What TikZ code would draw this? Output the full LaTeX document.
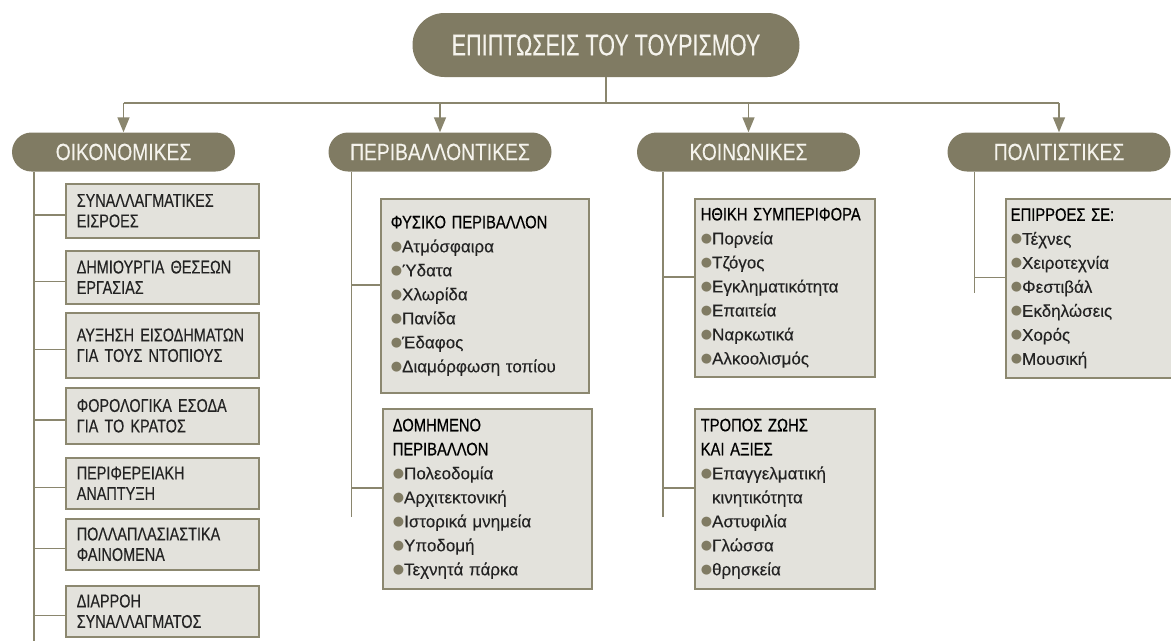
\documentclass[tikz,border=0pt]{standalone}
\usepackage{fontspec}
\setmainfont[FakeStretch=0.82,FakeBold=0.2]{Liberation Sans}
\newfontfamily\itemfont[FakeBold=0.2]{Liberation Sans}
\newfontfamily\boxfont[FakeStretch=0.78,FakeBold=0.2]{Liberation Sans}
\newfontfamily\headfont[FakeStretch=0.82,FakeBold=0.5]{Liberation Sans}
\newfontfamily\titlefont[FakeStretch=0.72,FakeBold=0.2]{Liberation Sans}
\newfontfamily\symfont{DejaVu Sans}
\usepackage{xcolor}
\usepackage{tikz}
\usetikzlibrary{arrows.meta}
\usetikzlibrary{positioning,calc}

\definecolor{pillcol}{RGB}{128,123,99}
\definecolor{boxfill}{RGB}{227,226,220}
\definecolor{boxline}{RGB}{140,136,112}
\definecolor{linkcol}{RGB}{138,134,110}
\definecolor{headtext}{RGB}{245,243,236}
\definecolor{bodytext}{RGB}{35,35,35}

% bullets and headings inside the boxes
\newcommand{\blt}{{\symfont\fontsize{13}{13}\selectfont\color{pillcol}\raisebox{2pt}{●}}}
\newcommand{\itm}[1]{\blt{\itemfont #1}}
\newcommand{\itmgap}{\hphantom{\blt}}
\newcommand{\hd}[1]{{\headfont\fontsize{18}{24}\selectfont\color{black}#1}}

\tikzset{
    pill/.style={
        fill=pillcol,
        rounded corners=19.5pt,
        minimum width=223pt,
        minimum height=39pt,
        inner sep=0pt,
        text=headtext,
        font=\fontsize{23.5}{26}\selectfont
    },
    infobox/.style={
        draw=boxline,
        fill=boxfill,
        line width=1.5pt,
        anchor=north west,
        align=left,
        inner xsep=11pt,
        inner ysep=0pt,
        text=bodytext,
        font=\fontsize{17}{24}\selectfont
    },
    link/.style={
        draw=linkcol,
        line width=1.5pt
    },
    arr/.style={
        link,
        -{Triangle[length=15pt, width=12pt]}
    }
}

\begin{document}
\begin{tikzpicture}[x=1pt, y=-1pt]
  \clip (0,0) rectangle (1171,641);

  % Create title
  \node[pill, minimum width=387pt, minimum height=64pt, rounded corners=32pt,
        font=\titlefont\fontsize{30}{32}\selectfont] (root) at (606,45) {ΕΠΙΠΤΩΣΕΙΣ ΤΟΥ ΤΟΥΡΙΣΜΟΥ};
  \coordinate (bus) at (606,103);

  % Create column headers
  \foreach \i/\x/\txt in {1/123.5/ΟΙΚΟΝΟΜΙΚΕΣ, 2/440/ΠΕΡΙΒΑΛΛΟΝΤΙΚΕΣ,
                          3/748.5/ΚΟΙΝΩΝΙΚΕΣ, 4/1059/ΠΟΛΙΤΙΣΤΙΚΕΣ} {
    \node[pill] (h\i) at (\x,152) {\txt};
  }

  % Draw title to headers
  \draw[link] (root.south) -- (bus);
  \draw[link] (h1 |- bus) -- (h4 |- bus);
  \foreach \i in {1,...,4} {
    \draw[arr] (h\i |- bus) -- (h\i.north);
  }

  % Draw column spines
  \foreach \i/\dx/\yend in {1/22/641, 2/23/517, 3/26/517, 4/27/293} {
    \coordinate (s\i) at ($(h\i.south west)+(\dx,0)$);
    \coordinate (t\i) at (s\i |- 0,\yend);
    \draw[link] (s\i) -- (t\i);
  }

  % Create economic boxes
  \foreach \i/\ytop/\hgt/\txt in {
      1/183/54/{ΣΥΝΑΛΛΑΓΜΑΤΙΚΕΣ\\ΕΙΣΡΟΕΣ},
      2/250/53/{ΔΗΜΙΟΥΡΓΙΑ ΘΕΣΕΩΝ\\ΕΡΓΑΣΙΑΣ},
      3/312/65/{ΑΥΞΗΣΗ ΕΙΣΟΔΗΜΑΤΩΝ\\ΓΙΑ ΤΟΥΣ ΝΤΟΠΙΟΥΣ},
      4/387/56/{ΦΟΡΟΛΟΓΙΚΑ ΕΣΟΔΑ\\ΓΙΑ ΤΟ ΚΡΑΤΟΣ},
      5/457/51/{ΠΕΡΙΦΕΡΕΙΑΚΗ\\ΑΝΑΠΤΥΞΗ},
      6/518/51/{ΠΟΛΛΑΠΛΑΣΙΑΣΤΙΚΑ\\ΦΑΙΝΟΜΕΝΑ},
      7/585/51/{ΔΙΑΡΡΟΗ\\ΣΥΝΑΛΛΑΓΜΑΤΟΣ}} {
    \node[infobox, minimum width=193pt, text width=171pt, minimum height=\hgt,
          font=\boxfont\fontsize{18.5}{20.5}\selectfont] (e\i) at (65,\ytop) {\txt};
    \coordinate (e\i p) at ([yshift=-4pt]e\i.west);
    \draw[link] (s1 |- e\i p) -- (e\i p);
  }

  % Create list boxes
  \node[infobox, minimum width=208pt, inner xsep=10pt, text width=188pt, minimum height=194] (env1) at (380,198) {
    \hd{ΦΥΣΙΚΟ ΠΕΡΙΒΑΛΛΟΝ}\\
    \itm{Ατμόσφαιρα}\\
    \itm{Ύδατα}\\
    \itm{Χλωρίδα}\\
    \itm{Πανίδα}\\
    \itm{Έδαφος}\\
    \itm{Διαμόρφωση τοπίου}};
  \node[infobox, minimum width=209pt, inner xsep=10pt, text width=189pt, minimum height=180] (env2) at (382,408) {
    \hd{ΔΟΜΗΜΕΝΟ}\\
    \hd{ΠΕΡΙΒΑΛΛΟΝ}\\
    \itm{Πολεοδομία}\\
    \itm{Αρχιτεκτονική}\\
    \itm{Ιστορικά μνημεία}\\
    \itm{Υποδομή}\\
    \itm{Τεχνητά πάρκα}};
  \node[infobox, minimum width=180pt, inner xsep=6pt, text width=168pt, minimum height=178] (soc1) at (694,198) {
    \hd{ΗΘΙΚΗ ΣΥΜΠΕΡΙΦΟΡΑ}\\
    \itm{Πορνεία}\\
    \itm{Τζόγος}\\
    \itm{Εγκληματικότητα}\\
    \itm{Επαιτεία}\\
    \itm{Ναρκωτικά}\\
    \itm{Αλκοολισμός}};
  \node[infobox, minimum width=180pt, inner xsep=6pt, text width=168pt, minimum height=180] (soc2) at (694,408) {
    \hd{ΤΡΟΠΟΣ ΖΩΗΣ}\\
    \hd{ΚΑΙ ΑΞΙΕΣ}\\
    \itm{Επαγγελματική}\\
    \itmgap{\itemfont κινητικότητα}\\
    \itm{Αστυφιλία}\\
    \itm{Γλώσσα}\\
    \itm{θρησκεία}};
  \node[infobox, minimum width=190pt, inner xsep=5pt, text width=180pt, minimum height=179] (cul1) at (1005,198) {
    \hd{ΕΠΙΡΡΟΕΣ ΣΕ:}\\
    \itm{Τέχνες}\\
    \itm{Χειροτεχνία}\\
    \itm{Φεστιβάλ}\\
    \itm{Εκδηλώσεις}\\
    \itm{Χορός}\\
    \itm{Μουσική}};

  % Draw branches to list boxes
  \foreach \b/\s in {env1/s2, env2/s2, soc1/s3, soc2/s3, cul1/s4} {
    \coordinate (\b p) at ([yshift=11pt]\b.west);
    \draw[link] (\s |- \b p) -- (\b p);
  }
\end{tikzpicture}
\end{document}
